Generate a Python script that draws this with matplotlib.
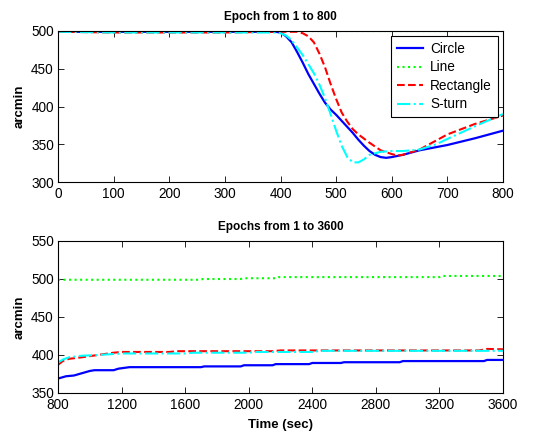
import matplotlib
matplotlib.use("Agg")
import matplotlib.pyplot as plt
import numpy as np

plt.rcParams['font.family'] = ['Liberation Sans', 'DejaVu Sans']

# ---- Epochs 1..800 ----
circle_t = [0, 100, 200, 300, 390, 400, 410, 420, 430, 440, 450, 460, 470, 480, 490, 500, 510, 520,
            530, 540, 550, 560, 570, 580, 590, 600, 620, 650, 700, 750, 800]
circle_v = [499, 499, 499, 499, 499, 498, 493, 485, 472, 458, 443, 430, 417, 405, 396, 389, 381, 373,
            365, 356, 348, 341, 336, 333, 332, 333, 336, 342, 349, 358, 368]

line_t = [0, 200, 400, 600, 800]
line_v = [499.5, 499.5, 499.5, 499.5, 499.5]

rect_t = [0, 100, 200, 300, 400, 430, 440, 450, 460, 470, 480, 490, 500, 510, 520, 530, 540, 560,
          580, 600, 610, 620, 650, 680, 700, 750, 800]
rect_v = [499, 498, 498, 498, 499, 499, 497, 493, 485, 470, 452, 430, 410, 392, 380, 370, 363, 352,
          342, 337, 335, 336, 343, 355, 363, 377, 388]

sturn_t = [0, 100, 200, 300, 390, 400, 410, 420, 430, 440, 450, 460, 470, 480, 490, 500, 510, 520,
           530, 540, 550, 560, 580, 600, 620, 650, 680, 700, 750, 800]
sturn_v = [499, 498, 498, 498, 498, 497, 494, 488, 478, 468, 456, 444, 429, 411, 390, 368, 348, 333,
           326, 326, 330, 336, 340, 341, 341, 343, 350, 357, 374, 390]

# ---- Epochs 1..3600 ----
line2_t = [800, 1700, 1710, 1950, 1960, 2180, 2190, 3200, 3210, 3600]
line2_v = [499, 499, 500, 500, 501, 501, 502.5, 502.5, 504, 504]

circle2_t = [800, 850, 900, 950, 1000, 1030, 1150, 1180, 1250, 1700, 1720, 1950, 1970, 2150, 2170,
             2380, 2400, 2580, 2600, 2950, 2970, 3480, 3500, 3600]
circle2_v = [369, 372, 373, 376, 379, 380, 380, 382, 384, 384, 385, 385, 386.5, 386.5, 388,
             388, 389.5, 389.5, 390.5, 390.5, 392, 392, 393.5, 393.5]

rect2_t = [800, 830, 870, 950, 1050, 1150, 1200, 1500, 1550, 2150, 2200, 3450, 3500, 3600]
rect2_v = [387, 392, 395, 397, 400, 403, 404, 404, 405, 405, 406, 406, 408, 407.5]

sturn2_t = [800, 830, 870, 950, 1050, 1200, 1600, 1650, 2000, 2050, 2400, 2450, 3600]
sturn2_v = [390, 394, 397, 399, 400, 402, 402, 403, 403, 404, 404, 405.5, 405.5]

styles = dict(
    Circle=dict(color='#0000ff', ls='-', lw=1.6),
    Line=dict(color='#00ff00', ls=':', lw=1.5),
    Rectangle=dict(color='#ff0000', ls='--', lw=1.5),
    S_turn=dict(color='#00ffff', ls='-.', lw=1.5),
)

fig = plt.figure(figsize=(5.39, 4.32), dpi=100)
ax1 = fig.add_axes([58/539, 1-182/432, (503-58)/539, (182-31)/432])
ax2 = fig.add_axes([58/539, 1-393/432, (503-58)/539, (393-241)/432])

ax1.plot(circle_t, circle_v, label='Circle', **styles['Circle'])
ax1.plot(line_t, line_v, label='Line', **styles['Line'])
ax1.plot(rect_t, rect_v, label='Rectangle', **styles['Rectangle'])
ax1.plot(sturn_t, sturn_v, label='S-turn', **styles['S_turn'])
ax1.set_xlim(0, 800)
ax1.set_ylim(300, 500)
ax1.set_xticks(np.arange(0, 801, 100))
ax1.set_yticks(np.arange(300, 501, 50))
ax1.set_title('Epoch from 1 to 800', fontsize=8.5, fontweight='bold', pad=8)
ax1.set_ylabel('arcmin', fontsize=9.5, fontweight='bold', labelpad=4)
leg = ax1.legend(loc='upper right', fontsize=9.8, fancybox=False, framealpha=1,
                 edgecolor='black', borderaxespad=0.35, handlelength=1.9,
                 handletextpad=0.55, labelspacing=0.33, borderpad=0.45)
leg.get_frame().set_linewidth(0.8)

ax2.plot(circle2_t, circle2_v, **styles['Circle'])
ax2.plot(line2_t, line2_v, **styles['Line'])
ax2.plot(rect2_t, rect2_v, **styles['Rectangle'])
ax2.plot(sturn2_t, sturn2_v, **styles['S_turn'])
ax2.set_xlim(800, 3600)
ax2.set_ylim(350, 550)
ax2.set_xticks(np.arange(800, 3601, 400))
ax2.set_yticks(np.arange(350, 551, 50))
ax2.set_title('Epochs from 1 to 3600', fontsize=8.5, fontweight='bold', pad=8)
ax2.set_ylabel('arcmin', fontsize=9.5, fontweight='bold', labelpad=4)
ax2.set_xlabel('Time (sec)', fontsize=9.5, fontweight='bold', labelpad=5)

for ax in (ax1, ax2):
    ax.tick_params(direction='in', top=True, right=True, labelsize=9.8,
                   length=4, width=0.6)
    ax.tick_params(axis='x', pad=3.5)
    ax.tick_params(axis='y', pad=3)
    for s in ax.spines.values():
        s.set_linewidth(0.8)

fig.savefig('out.png', dpi=100)
